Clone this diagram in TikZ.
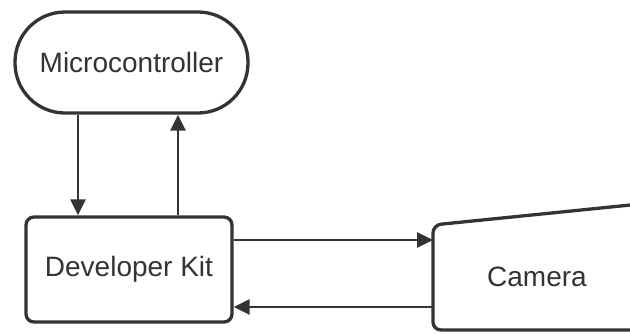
\documentclass[tikz,border=0pt]{standalone}
\usepackage{fontspec}
\setmainfont{Liberation Sans}
\usetikzlibrary{arrows.meta}
\definecolor{ink}{HTML}{333333}
\begin{document}
\begin{tikzpicture}[x=1pt,y=-1pt,
  shapebox/.style={draw=ink,line width=3.3pt,text=ink,font=\fontsize{28}{32}\selectfont,inner sep=0pt},
  arr/.style={draw=ink,line width=2.8pt,-{Triangle[length=16pt,width=15pt]}}]
\useasboundingbox (0,0) rectangle (630,333);
\node[shapebox,rounded corners=50pt,minimum width=233pt,minimum height=101pt] (mc) at (131.5,62.5) {Microcontroller};
\node[shapebox,rounded corners=8pt,minimum width=206pt,minimum height=105pt] (dk) at (129,269.5) {Developer Kit};
\coordinate (camTL) at (433,225);
\coordinate (camBL) at (433,330);
\begin{scope}
\clip (0,0) rectangle (630,333);
\draw[ink,line width=3.3pt,rounded corners=8pt] (700,330) -- (camBL) -- (camTL) -- (660,202);
\end{scope}
\node[text=ink,font=\fontsize{28}{32}\selectfont,inner sep=0pt] (cam) at (537,277) {Camera};
\draw[arr] ([xshift=-53.5pt]mc.south) -- ([xshift=-53.5pt]mc.south |- dk.north);
\draw[arr] ([xshift=49pt]dk.north) -- ([xshift=49pt]dk.north |- mc.south);
\draw[arr] ([yshift=29.5pt]dk.east) -- ([yshift=29.5pt]dk.east -| camTL);
\draw[arr] ([yshift=-37.5pt]dk.east -| camTL) -- ([yshift=-37.5pt]dk.east);
\end{tikzpicture}
\end{document}
